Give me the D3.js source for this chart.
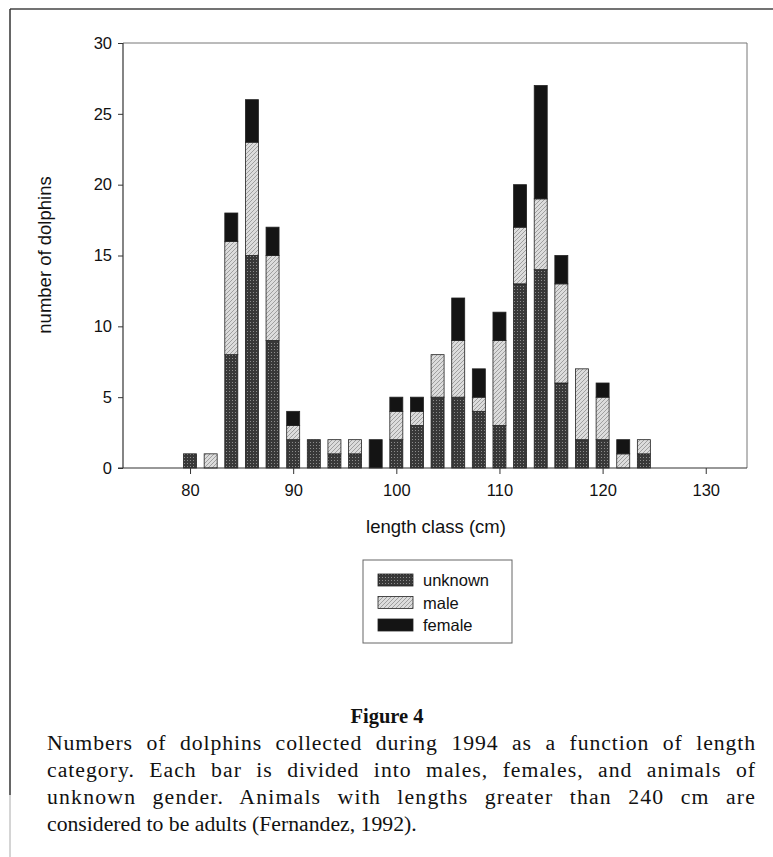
<!DOCTYPE html>
<html>
<head>
<meta charset="utf-8">
<script src="https://cdn.jsdelivr.net/npm/d3@7"></script>
<style>
  html, body { margin: 0; padding: 0; background: #fff; }
  svg { display: block; }
</style>
</head>
<body>
<svg id="chart" width="773" height="857"></svg>
<script>
// ---- data ----
const lengthClasses = [80,82,84,86,88,90,92,94,96,98,100,102,104,106,108,110,112,114,116,118,120,122,124];
const unknownCounts = [1,0,8,15,9,2,2,1,1,0,2,3,5,5,4,3,13,14,6,2,2,0,1];
const maleCounts    = [0,1,8,8,6,1,0,1,1,0,2,1,3,4,1,6,4,5,7,5,3,1,1];
const femaleCounts  = [0,0,2,3,2,1,0,0,0,2,1,1,0,3,2,2,3,8,2,0,1,1,0];
const seriesNames = ["unknown", "male", "female"];
const yTicks = [0,5,10,15,20,25,30];
const xTicks = [80,90,100,110,120,130];
const captionTitle = "Figure 4";
const captionLines = [
  "Numbers of dolphins collected during 1994 as a function of length",
  "category. Each bar is divided into males, females, and animals of",
  "unknown gender. Animals with lengths greater than 240 cm are",
  "considered to be adults (Fernandez, 1992)."
];

(function () {
const svg = d3.select("#chart");
const sans = "'Liberation Sans', Arial, sans-serif";
const serif = "'Liberation Serif', 'Times New Roman', serif";

// ---- patterns ----
const defs = svg.append("defs");
const pu = defs.append("pattern").attr("id","pat-unknown").attr("patternUnits","userSpaceOnUse")
  .attr("width",3).attr("height",3);
pu.append("rect").attr("width",3).attr("height",3).attr("fill","#383838");
pu.append("rect").attr("x",1).attr("y",1).attr("width",1).attr("height",1).attr("fill","#8c8c8c");

const pm = defs.append("pattern").attr("id","pat-male").attr("patternUnits","userSpaceOnUse")
  .attr("width",4).attr("height",4);
pm.append("rect").attr("width",4).attr("height",4).attr("fill","#dcdcdc");
pm.append("path").attr("d","M-1,1 l2,-2 M0,4 l4,-4 M3,5 l2,-2").attr("stroke","#999").attr("stroke-width",0.9);

const fills = { unknown: "url(#pat-unknown)", male: "url(#pat-male)", female: "#141414" };

// ---- outer frame ----
svg.append("line").attr("x1",10).attr("y1",9).attr("x2",773).attr("y2",9)
  .attr("stroke","#444").attr("stroke-width",1.5);
svg.append("line").attr("x1",10).attr("y1",9).attr("x2",10).attr("y2",795)
  .attr("stroke","#333").attr("stroke-width",1.5);
svg.append("line").attr("x1",10).attr("y1",795).attr("x2",10).attr("y2",857)
  .attr("stroke","#aaa").attr("stroke-width",1);

// ---- scales ----
const pLeft = 123, pRight = 747, pTop = 43, pBottom = 468;
const x = d3.scaleLinear().domain([73.5, 134]).range([pLeft, pRight]);
const y = d3.scaleLinear().domain([0, 30]).range([pBottom, pTop]);
const barW = 13;

// plot frame (top & right)
svg.append("line").attr("x1",pLeft).attr("y1",pTop).attr("x2",pRight).attr("y2",pTop)
  .attr("stroke","#777").attr("stroke-width",1);
svg.append("line").attr("x1",pRight).attr("y1",pTop).attr("x2",pRight).attr("y2",pBottom)
  .attr("stroke","#777").attr("stroke-width",1);

// ---- stacked bars ----
const rows = lengthClasses.map((l, i) => ({
  len: l, unknown: unknownCounts[i], male: maleCounts[i], female: femaleCounts[i]
}));
const stack = d3.stack().keys(seriesNames)(rows);
const gBars = svg.append("g");
stack.forEach(layer => {
  gBars.selectAll(null).data(layer.filter(d => d[1] > d[0])).enter().append("rect")
    .attr("x", d => x(d.data.len) - barW/2)
    .attr("y", d => y(d[1]))
    .attr("width", barW)
    .attr("height", d => y(d[0]) - y(d[1]))
    .attr("fill", fills[layer.key])
    .attr("stroke", "#222")
    .attr("stroke-width", 0.8);
});

// ---- axes ----
const yAxis = d3.axisLeft(y).tickValues(yTicks).tickSize(5).tickPadding(6);
const gy = svg.append("g").attr("transform", `translate(${pLeft},0)`).call(yAxis);
const xAxis = d3.axisBottom(x).tickValues(xTicks).tickSize(6).tickPadding(10).tickSizeOuter(0);
const gx = svg.append("g").attr("transform", `translate(0,${pBottom})`).call(xAxis);
[gx, gy].forEach(g => {
  g.attr("font-size", 16.5).attr("font-family", sans);
  g.selectAll("text").attr("fill","#111");
  g.selectAll("line").attr("stroke","#333");
  g.select(".domain").attr("stroke","#333").attr("stroke-width",1.2);
});
gy.select(".domain").attr("d", `M0,${pBottom}V${pTop}`);
gx.select(".domain").attr("d", `M${pLeft - 5},0H${pRight}`);

// axis titles
svg.append("text").attr("x", 436).attr("y", 533).attr("text-anchor","middle")
  .attr("font-family",sans).attr("font-size",18.5).attr("fill","#111")
  .text("length class (cm)");
svg.append("text").attr("transform","translate(51,255) rotate(-90)").attr("text-anchor","middle")
  .attr("font-family",sans).attr("font-size",18.5).attr("fill","#111")
  .text("number of dolphins");

// ---- legend ----
const lg = svg.append("g");
lg.append("rect").attr("x",363).attr("y",560).attr("width",149).attr("height",83)
  .attr("fill","#fff").attr("stroke","#666").attr("stroke-width",1);
seriesNames.forEach((k, i) => {
  const yy = 574 + i * 22.5;
  lg.append("rect").attr("x",378).attr("y",yy).attr("width",35).attr("height",12)
    .attr("fill",fills[k]).attr("stroke","#222").attr("stroke-width",0.8);
  lg.append("text").attr("x",423).attr("y",yy + 12)
    .attr("font-family",sans).attr("font-size",16.5).attr("fill","#111")
    .text(k);
});

// ---- caption ----
svg.append("text").attr("x",387).attr("y",723).attr("text-anchor","middle")
  .attr("font-family",serif).attr("font-size",20.5)
  .attr("font-weight","bold").attr("fill","#111").text(captionTitle);

const capTexts = captionLines.map((t, i) =>
  svg.append("text").attr("x",0).attr("y",0)
    .attr("font-family",serif).attr("font-size",20.5)
    .attr("fill","#111").text(t));
const lastNat = capTexts[capTexts.length - 1].node().getComputedTextLength();
const sx = 370 / lastNat;
capTexts.forEach((tx, i) => {
  tx.attr("transform", `translate(47,${750 + i * 27}) scale(${sx},1)`);
  if (i === capTexts.length - 1) return;
  const t = captionLines[i];
  const natural = tx.node().getComputedTextLength();
  const extra = 709 / sx - natural;
  const nSpaces = (t.match(/ /g) || []).length;
  const ls = 0.45 * extra / t.length;
  const ws = 0.55 * extra / nSpaces;
  tx.style("letter-spacing", ls + "px").style("word-spacing", ws + "px");
});
})();
</script>
</body>
</html>
